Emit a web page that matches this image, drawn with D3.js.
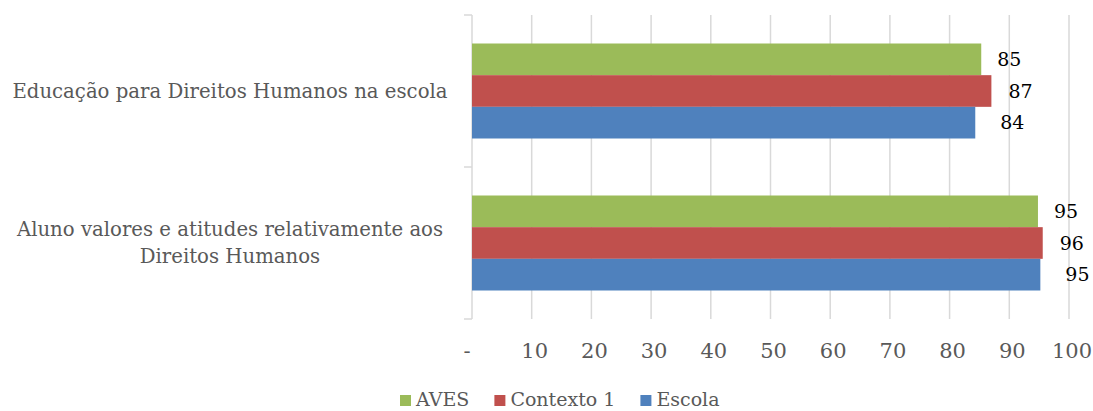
<!DOCTYPE html>
<html>
<head>
<meta charset="utf-8">
<script src="https://cdn.jsdelivr.net/npm/d3@7"></script>
<style>
  body { margin: 0; background: #fff; }
  text { font-family: "DejaVu Serif", serif; }
</style>
</head>
<body>
<div id="chart"></div>
<script>
var categories = ['Educação para Direitos Humanos na escola', 'Aluno valores e atitudes relativamente aos Direitos Humanos']
var series = ['AVES', 'Contexto 1', 'Escola']
var aves = [85.3, 94.8]
var contexto = [87.0, 95.6]
var escola = [84.3, 95.2]
var tickValues = [0, 10, 20, 30, 40, 50, 60, 70, 80, 90, 100]
var tickLabels = ['-', '10', '20', '30', '40', '50', '60', '70', '80', '90', '100']

var colors = {'AVES': '#9bbb59', 'Contexto 1': '#c0504d', 'Escola': '#4f81bd'}
var labelGap = {'AVES': 16, 'Contexto 1': 17, 'Escola': 25}

var values = {'AVES': aves, 'Contexto 1': contexto, 'Escola': escola}
var rows = []
categories.forEach(function(cat, i){
  series.forEach(function(s){ rows.push({cat: cat, series: s, value: values[s][i]}) })
})

var width = 1093, height = 411
var svg = d3.select('#chart').append('svg').attr('width', width).attr('height', height)

var x = d3.scaleLinear().domain([0, 100]).range([472, 1069])
var y = d3.scaleBand().domain(categories).range([15, 319]).paddingInner(0.375).paddingOuter(0.1875)
var ySub = d3.scaleBand().domain(series).range([0, y.bandwidth()])

// gridlines
svg.append('g').selectAll('line')
  .data(tickValues.filter(function(d){ return d > 0 }))
  .join('line')
  .attr('x1', x).attr('x2', x)
  .attr('y1', y.range()[0]).attr('y2', y.range()[1])
  .attr('stroke', '#d9d9d9').attr('stroke-width', 1.5)

// category axis with ticks between groups
var yAxis = svg.append('g')
yAxis.append('line')
  .attr('x1', x(0)).attr('x2', x(0))
  .attr('y1', y.range()[0]).attr('y2', y.range()[1])
  .attr('stroke', '#d9d9d9').attr('stroke-width', 1.5)
yAxis.selectAll('line.tick')
  .data(d3.range(categories.length + 1))
  .join('line').attr('class', 'tick')
  .attr('x1', x(0) - 8).attr('x2', x(0))
  .attr('y1', function(i){ return y.range()[0] + i * y.step() })
  .attr('y2', function(i){ return y.range()[0] + i * y.step() })
  .attr('stroke', '#d9d9d9').attr('stroke-width', 1.5)

// bars
svg.append('g').selectAll('rect')
  .data(rows)
  .join('rect')
  .attr('x', x(0))
  .attr('y', function(d){ return y(d.cat) + ySub(d.series) })
  .attr('width', function(d){ return x(d.value) - x(0) })
  .attr('height', ySub.bandwidth())
  .attr('fill', function(d){ return colors[d.series] })

// value labels
svg.append('g').selectAll('text')
  .data(rows)
  .join('text')
  .attr('x', function(d){ return x(d.value) + labelGap[d.series] })
  .attr('y', function(d){ return y(d.cat) + ySub(d.series) + ySub.bandwidth() / 2 })
  .attr('dy', '0.35em')
  .attr('font-size', 19)
  .attr('fill', '#000')
  .text(function(d){ return d3.format('.0f')(d.value) })

// value axis labels
svg.append('g').selectAll('text')
  .data(tickValues)
  .join('text')
  .attr('x', function(d, i){ return d == 0 ? x(d) - 5 : x(d) + 3 })
  .attr('y', 358)
  .attr('text-anchor', 'middle')
  .attr('font-size', 21)
  .attr('fill', '#595959')
  .text(function(d, i){ return tickLabels[i] })

// category labels, wrapped
var catLabels = svg.append('g').selectAll('text')
  .data(categories)
  .join('text')
  .attr('text-anchor', 'middle')
  .attr('font-size', 19.7)
  .attr('fill', '#595959')

catLabels.each(function(cat){
  var sel = d3.select(this)
  var words = cat.split(' ')
  var lines = [], line = []
  var probe = sel.append('tspan')
  words.forEach(function(w){
    probe.text(line.concat(w).join(' '))
    if (line.length && probe.node().getComputedTextLength() > 445){
      lines.push(line.join(' '))
      line = [w]
    } else {
      line.push(w)
    }
  })
  lines.push(line.join(' '))
  probe.remove()
  var cy = y(cat) + y.bandwidth() / 2
  var lh = 27
  lines.forEach(function(l, i){
    sel.append('tspan')
      .attr('x', 230)
      .attr('y', cy + (i - (lines.length - 1) / 2) * lh)
      .attr('dy', '0.35em')
      .text(l)
  })
})

// legend
var legend = svg.append('g').attr('transform', 'translate(400,399)')
var lx = 0
series.forEach(function(s){
  var g = legend.append('g').attr('transform', 'translate(' + lx + ',0)')
  g.append('rect').attr('x', 0).attr('y', -4).attr('width', 11).attr('height', 11).attr('fill', colors[s])
  var t = g.append('text').attr('x', 16).attr('dy', '0.35em').attr('font-size', 19).attr('fill', '#595959').text(s)
  lx += 16 + t.node().getComputedTextLength() + 25
})
</script>
</body>
</html>
